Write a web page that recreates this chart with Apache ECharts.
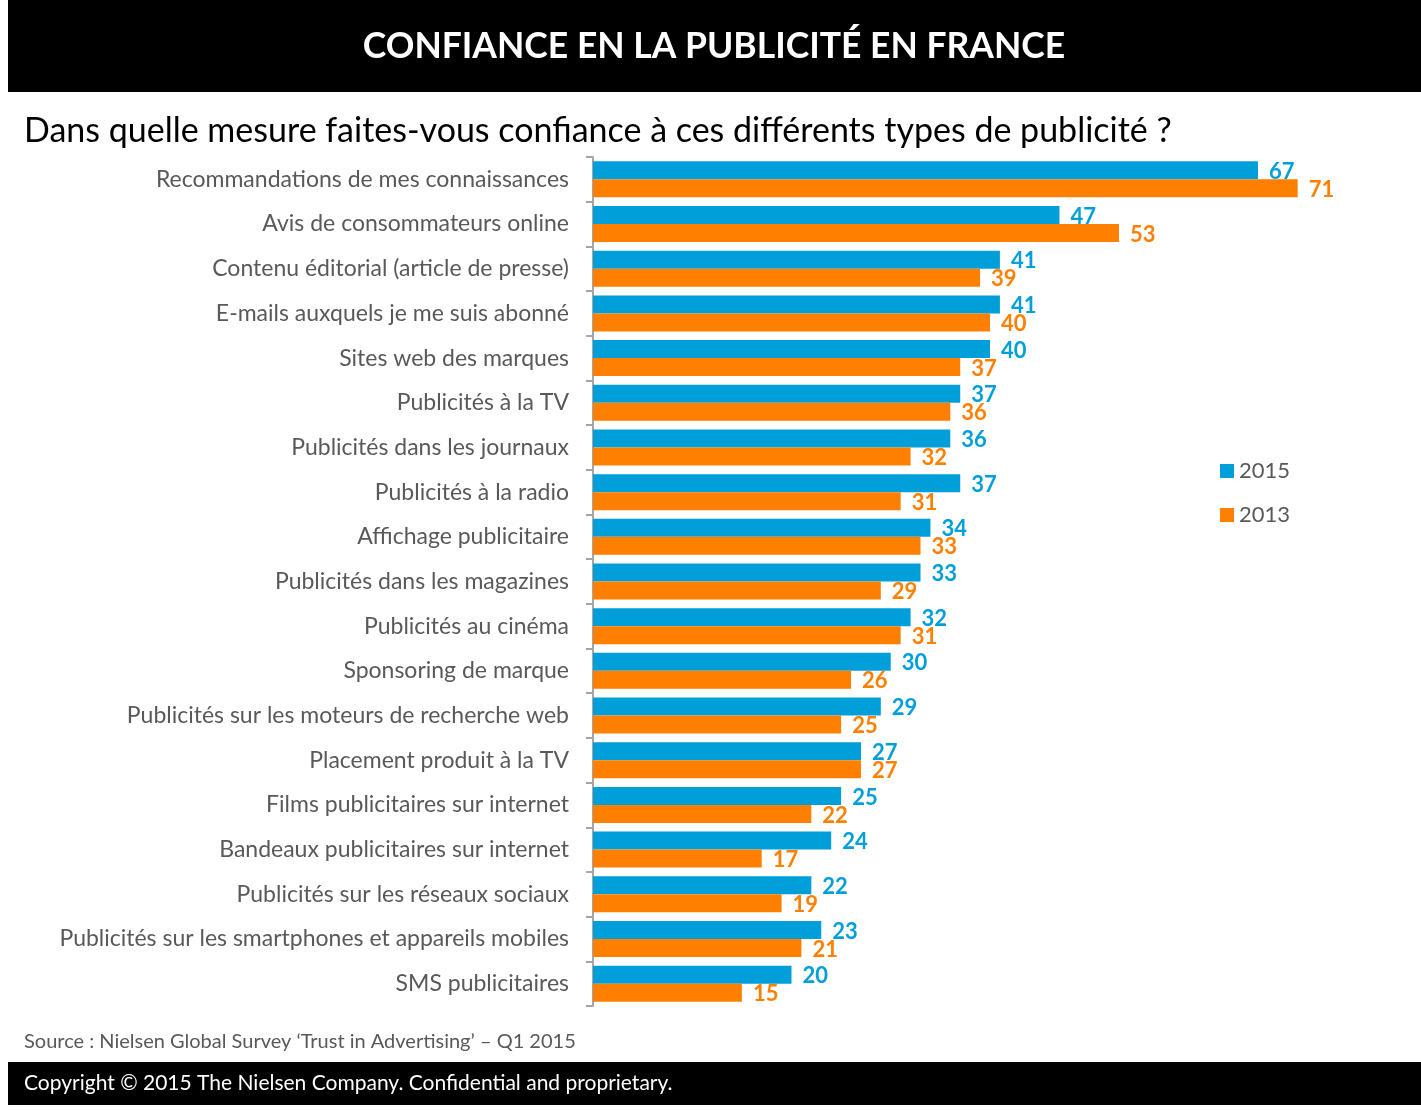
<!DOCTYPE html>
<html><head><meta charset="utf-8">
<script src="https://cdn.jsdelivr.net/npm/echarts@6/dist/echarts.min.js"></script>
<style>html,body{margin:0;padding:0;background:#fff}#c{width:1421px;height:1111px}</style>
</head><body><div id="c"></div>
<script>
const categories = [
  "Recommandations de mes connaissances",
  "Avis de consommateurs online",
  "Contenu éditorial (article de presse)",
  "E-mails auxquels je me suis abonné",
  "Sites web des marques",
  "Publicités à la TV",
  "Publicités dans les journaux",
  "Publicités à la radio",
  "Affichage publicitaire",
  "Publicités dans les magazines",
  "Publicités au cinéma",
  "Sponsoring de marque",
  "Publicités sur les moteurs de recherche web",
  "Placement produit à la TV",
  "Films publicitaires sur internet",
  "Bandeaux publicitaires sur internet",
  "Publicités sur les réseaux sociaux",
  "Publicités sur les smartphones et appareils mobiles",
  "SMS publicitaires"
];
const values2015 = [67,47,41,41,40,37,36,37,34,33,32,30,29,27,25,24,22,23,20];
const values2013 = [71,53,39,40,37,36,32,31,33,29,31,26,25,27,22,17,19,21,15];
const seriesNames = ["2015","2013"];

const FONT = "Lato, 'Open Sans', sans-serif";
const BLUE = "#009FDA", ORANGE = "#FF8000";
const chart = echarts.init(document.getElementById('c'));
chart.setOption({
  animation:false,
  textStyle:{fontFamily:FONT},
  graphic:[
    {type:'rect',shape:{x:8,y:0,width:1413,height:92},style:{fill:'#000'}},
    {type:'text',x:714,y:47,style:{text:'CONFIANCE EN LA PUBLICITÉ EN FRANCE',fill:'#fff',font:'bold 35.5px '+FONT,textAlign:'center',textVerticalAlign:'middle'}},
    {type:'text',x:24,y:131,style:{text:'Dans quelle mesure faites-vous confiance à ces différents types de publicité ?',fill:'#000',font:'34px '+FONT,textVerticalAlign:'middle'}},
    {type:'text',x:24,y:1042,style:{text:'Source : Nielsen Global Survey ‘Trust in Advertising’ – Q1 2015',fill:'#595959',font:'20px '+FONT,textVerticalAlign:'middle'}},
    {type:'rect',shape:{x:8,y:1062,width:1413,height:43},style:{fill:'#000'}},
    {type:'text',x:24,y:1083,style:{text:'Copyright © 2015 The Nielsen Company. Confidential and proprietary.',fill:'#fff',font:'21px '+FONT,textVerticalAlign:'middle'}}
  ],
  legend:{
    orient:'vertical',left:1215,top:455,itemWidth:14,itemHeight:14,itemGap:22,
    icon:'rect',data:seriesNames,
    textStyle:{color:'#595959',fontSize:22,fontFamily:FONT}
  },
  grid:{left:593,top:157,width:794,height:849,containLabel:false},
  xAxis:{type:'value',min:0,max:80,show:false,splitLine:{show:false}},
  yAxis:{
    type:'category',data:categories,inverse:true,
    axisLine:{show:true,lineStyle:{color:'#A6A6A6',width:2}},
    axisTick:{show:true,length:7,alignWithLabel:false,lineStyle:{color:'#A6A6A6',width:2}},
    axisLabel:{color:'#595959',fontSize:23,margin:24,fontFamily:FONT}
  },
  series:[
    {name:seriesNames[0],type:'bar',data:values2015,barWidth:18,barGap:'0%',
     itemStyle:{color:BLUE},
     label:{show:true,position:'right',distance:11,offset:[0,1.5],color:BLUE,fontWeight:'bold',fontSize:22,fontFamily:FONT}},
    {name:seriesNames[1],type:'bar',data:values2013,barWidth:18,barGap:'0%',
     itemStyle:{color:ORANGE},
     label:{show:true,position:'right',distance:11,offset:[0,1.5],color:ORANGE,fontWeight:'bold',fontSize:22,fontFamily:FONT}}
  ]
});
</script></body></html>
